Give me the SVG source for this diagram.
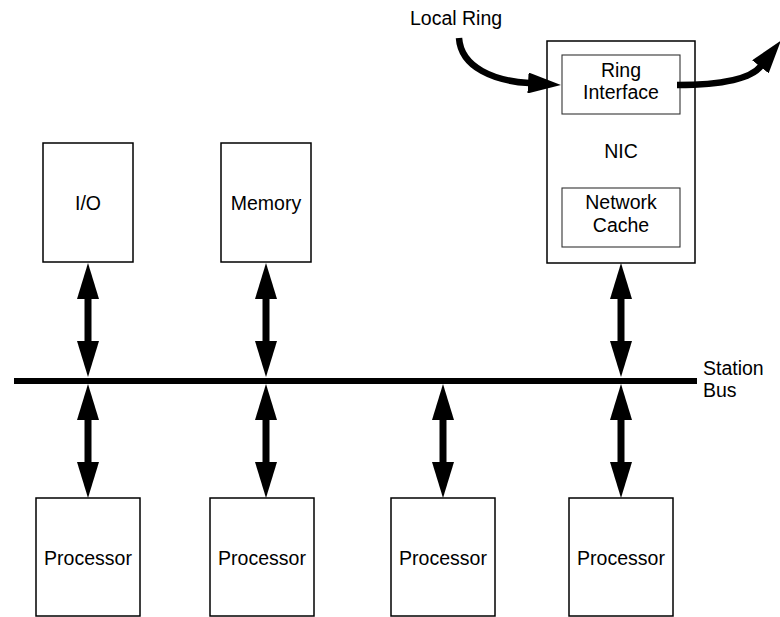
<svg xmlns="http://www.w3.org/2000/svg" width="780" height="617" viewBox="0 0 780 617">
  <defs>
    <style>
      .box { fill: #fff; stroke: #000; stroke-width: 1.5; }
      .inner { fill: #fff; stroke: #333; stroke-width: 1.1; }
      .lbl { font-family: "Liberation Sans", Arial, Helvetica, sans-serif; font-size: 19.5px; fill: #000; }
      .mid { text-anchor: middle; }
      .shaft { stroke: #000; stroke-width: 7; fill: none; marker-start: url(#head); marker-end: url(#head); }
      .curve { stroke: #000; stroke-width: 6.5; fill: none; marker-end: url(#chead); }
    </style>
    <!-- large head used by the bus links; drawn from its base outward -->
    <marker id="head" markerUnits="userSpaceOnUse" markerWidth="37" markerHeight="22" viewBox="0 0 37 22" refX="0" refY="11" orient="auto-start-reverse">
      <path d="M0,0 L36,11 L0,22 z" fill="#000"/>
    </marker>
    <!-- head for the ring links -->
    <marker id="chead" markerUnits="userSpaceOnUse" markerWidth="34" markerHeight="21" viewBox="0 0 34 21" refX="1" refY="10.5" orient="auto">
      <path d="M0,0 L33,10.5 L0,21 z" fill="#000"/>
    </marker>
  </defs>

  <rect width="780" height="617" fill="#fff"/>

  <!-- station bus -->
  <g id="station-bus">
    <line x1="14" y1="381" x2="697" y2="381" stroke="#000" stroke-width="6"/>
    <text class="lbl" x="703" y="375">Station</text>
    <text class="lbl" x="703" y="397">Bus</text>
  </g>

  <g id="io">
    <rect class="box" x="43" y="143" width="90" height="119"/>
    <text class="lbl mid" x="88" y="210">I/O</text>
  </g>

  <g id="memory">
    <rect class="box" x="221" y="143" width="90" height="119"/>
    <text class="lbl mid" x="266" y="210">Memory</text>
  </g>

  <g id="nic">
    <rect class="box" x="547" y="41" width="148" height="222"/>
    <text class="lbl mid" x="621" y="158">NIC</text>
  </g>

  <g id="ring-interface">
    <rect class="inner" x="562" y="55" width="118" height="59"/>
    <text class="lbl mid" x="621" y="77">Ring</text>
    <text class="lbl mid" x="621" y="99">Interface</text>
  </g>

  <g id="network-cache">
    <rect class="inner" x="562" y="188" width="118" height="59"/>
    <text class="lbl mid" x="621" y="209">Network</text>
    <text class="lbl mid" x="621" y="232">Cache</text>
  </g>

  <g id="processor-1">
    <rect class="box" x="36" y="498" width="104" height="118"/>
    <text class="lbl mid" x="88" y="565">Processor</text>
  </g>
  <g id="processor-2">
    <rect class="box" x="210" y="498" width="104" height="118"/>
    <text class="lbl mid" x="262" y="565">Processor</text>
  </g>
  <g id="processor-3">
    <rect class="box" x="391" y="498" width="104" height="118"/>
    <text class="lbl mid" x="443" y="565">Processor</text>
  </g>
  <g id="processor-4">
    <rect class="box" x="569" y="498" width="104" height="118"/>
    <text class="lbl mid" x="621" y="565">Processor</text>
  </g>

  <g id="local-ring-label">
    <text class="lbl" x="410" y="25">Local Ring</text>
  </g>

  <!-- connectors -->
  <g id="connectors">
    <!-- upper units to bus -->
    <line class="shaft" x1="88" y1="299" x2="88" y2="341"/>
    <line class="shaft" x1="266" y1="299" x2="266" y2="341"/>
    <line class="shaft" x1="621" y1="299" x2="621" y2="341"/>
    <!-- bus to processors -->
    <line class="shaft" x1="88" y1="420" x2="88" y2="462"/>
    <line class="shaft" x1="266" y1="420" x2="266" y2="462"/>
    <line class="shaft" x1="443" y1="420" x2="443" y2="462"/>
    <line class="shaft" x1="621" y1="420" x2="621" y2="462"/>
    <!-- ring in / ring out -->
    <path class="curve" d="M459,38 C461,68 495,81 529,83"/>
    <path class="curve" d="M677,85 C718,85 750,80 761,66"/>
  </g>
</svg>
